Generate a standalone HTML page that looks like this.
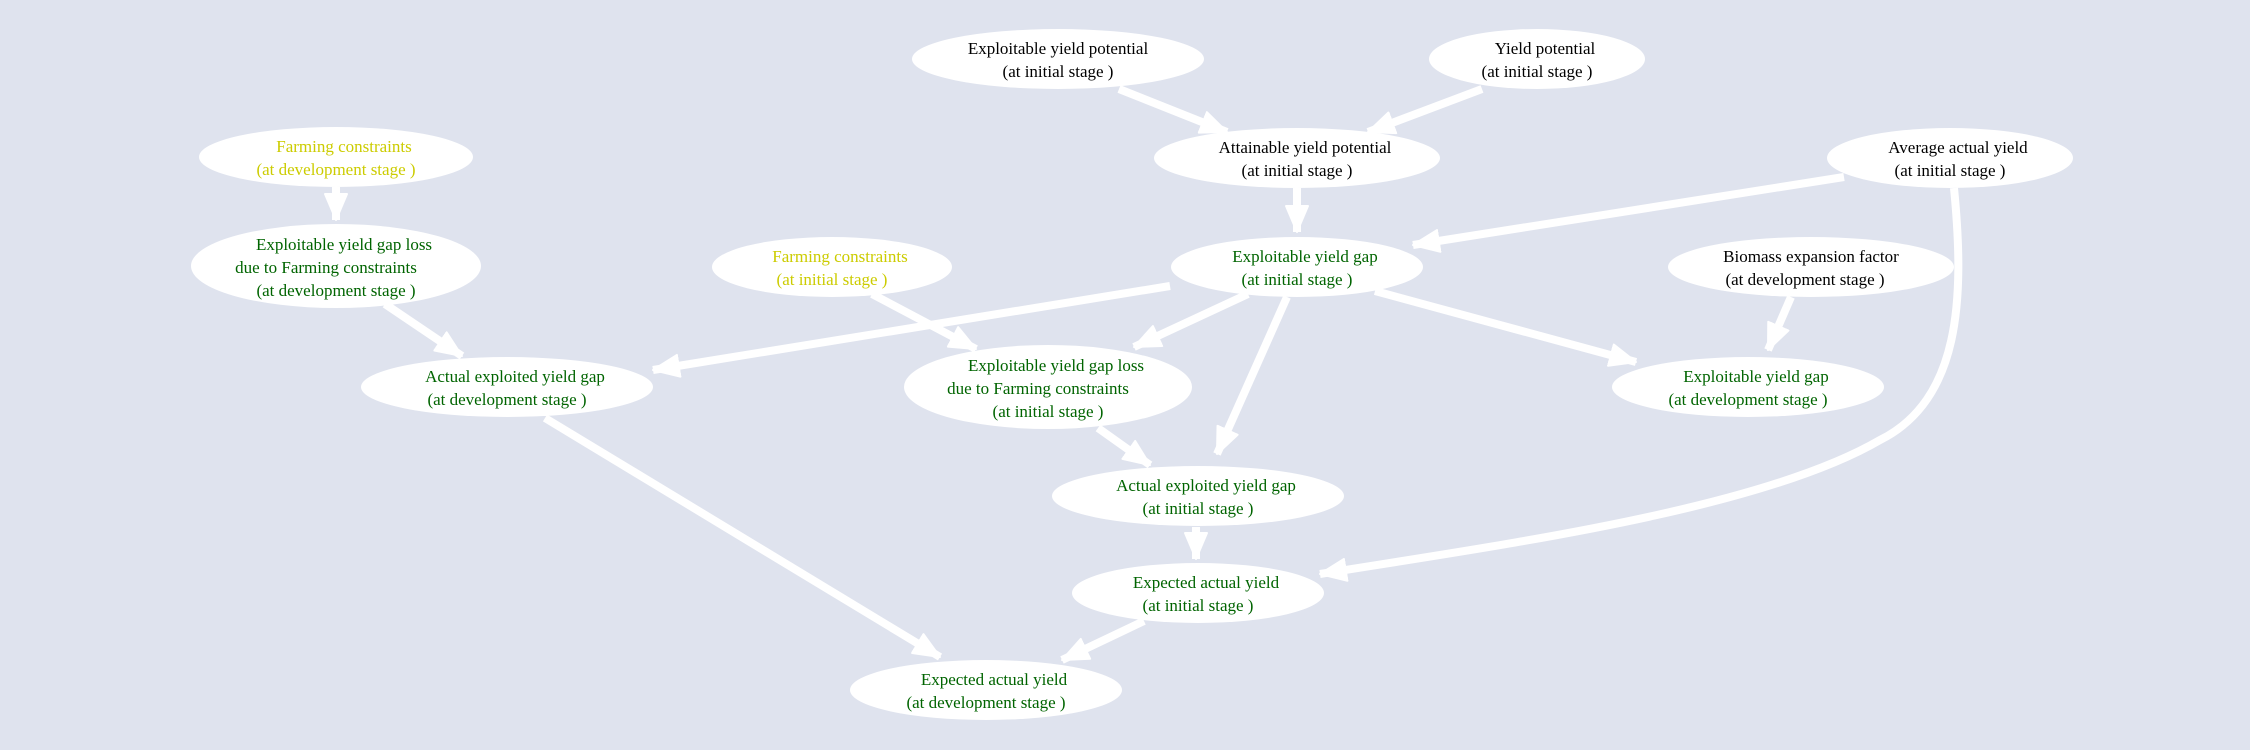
<!DOCTYPE html>
<html><head><meta charset="utf-8"><style>
html,body{margin:0;padding:0;background:#dfe3ee;}
svg{display:block;}
text{font-family:"Liberation Serif",serif;font-size:17px;text-anchor:middle;}
.k{fill:#000}.g{fill:#006400}.y{fill:#cccc00}
</style></head><body>
<svg width="2250" height="750" viewBox="0 0 2250 750" xmlns="http://www.w3.org/2000/svg">
<defs>
<marker id="a" markerUnits="userSpaceOnUse" markerWidth="30" markerHeight="26" refX="27" refY="13" orient="auto">
<path d="M1,2 L27,13 L1,24 Z" fill="#fff" stroke="#fff" stroke-width="2" stroke-linejoin="round"/>
</marker>
</defs>
<rect width="2250" height="750" fill="#dfe3ee"/>
<g stroke="#fff" stroke-width="8" fill="none" marker-end="url(#a)">
<line x1="1119" y1="89" x2="1227" y2="132"/>
<line x1="1482" y1="89" x2="1368" y2="132"/>
<line x1="336" y1="187" x2="336" y2="220"/>
<line x1="1297" y1="188" x2="1297" y2="232"/>
<line x1="1844" y1="177" x2="1413" y2="245"/>
<path d="M1954,188 C1965,300 1960,400 1880,440 C1760,510 1500,545 1320,574"/>
<line x1="385" y1="304" x2="462" y2="356"/>
<line x1="1170" y1="286" x2="653" y2="370"/>
<line x1="872" y1="294" x2="976" y2="349"/>
<line x1="1248" y1="294" x2="1134" y2="347"/>
<line x1="1287" y1="297" x2="1217" y2="454"/>
<line x1="1375" y1="291" x2="1636" y2="362"/>
<line x1="1791" y1="297" x2="1768" y2="350"/>
<line x1="1098" y1="428" x2="1150" y2="465"/>
<line x1="545" y1="418" x2="940" y2="657"/>
<line x1="1196" y1="527" x2="1196" y2="559"/>
<line x1="1144" y1="621" x2="1062" y2="660"/>
</g>
<g fill="#fff">
<ellipse cx="1058" cy="59" rx="146" ry="30"/>
<ellipse cx="1537" cy="59" rx="108" ry="30"/>
<ellipse cx="336" cy="157" rx="137" ry="30"/>
<ellipse cx="1297" cy="158" rx="143" ry="30"/>
<ellipse cx="1950" cy="158" rx="123" ry="30"/>
<ellipse cx="336" cy="266" rx="145" ry="42"/>
<ellipse cx="832" cy="267" rx="120" ry="30"/>
<ellipse cx="1297" cy="267" rx="126" ry="30"/>
<ellipse cx="1811" cy="267" rx="143" ry="30"/>
<ellipse cx="507" cy="387" rx="146" ry="30"/>
<ellipse cx="1048" cy="387" rx="144" ry="42"/>
<ellipse cx="1748" cy="387" rx="136" ry="30"/>
<ellipse cx="1198" cy="496" rx="146" ry="30"/>
<ellipse cx="1198" cy="593" rx="126" ry="30"/>
<ellipse cx="986" cy="690" rx="136" ry="30"/>
</g>
<text class="k" x="1058" y="54">Exploitable yield potential</text><text class="k" x="1058" y="77">(at initial stage )</text>
<text class="k" x="1545" y="54">Yield potential</text><text class="k" x="1537" y="77">(at initial stage )</text>
<text class="y" x="344" y="152">Farming constraints</text><text class="y" x="336" y="175">(at development stage )</text>
<text class="k" x="1305" y="153">Attainable yield potential</text><text class="k" x="1297" y="176">(at initial stage )</text>
<text class="k" x="1958" y="153">Average actual yield</text><text class="k" x="1950" y="176">(at initial stage )</text>
<text class="g" x="344" y="250">Exploitable yield gap loss</text><text class="g" x="326" y="273">due to Farming constraints</text><text class="g" x="336" y="296">(at development stage )</text>
<text class="y" x="840" y="262">Farming constraints</text><text class="y" x="832" y="285">(at initial stage )</text>
<text class="g" x="1305" y="262">Exploitable yield gap</text><text class="g" x="1297" y="285">(at initial stage )</text>
<text class="k" x="1811" y="262">Biomass expansion factor</text><text class="k" x="1805" y="285">(at development stage )</text>
<text class="g" x="515" y="382">Actual exploited yield gap</text><text class="g" x="507" y="405">(at development stage )</text>
<text class="g" x="1056" y="371">Exploitable yield gap loss</text><text class="g" x="1038" y="394">due to Farming constraints</text><text class="g" x="1048" y="417">(at initial stage )</text>
<text class="g" x="1756" y="382">Exploitable yield gap</text><text class="g" x="1748" y="405">(at development stage )</text>
<text class="g" x="1206" y="491">Actual exploited yield gap</text><text class="g" x="1198" y="514">(at initial stage )</text>
<text class="g" x="1206" y="588">Expected actual yield</text><text class="g" x="1198" y="611">(at initial stage )</text>
<text class="g" x="994" y="685">Expected actual yield</text><text class="g" x="986" y="708">(at development stage )</text>
</svg>
</body></html>
